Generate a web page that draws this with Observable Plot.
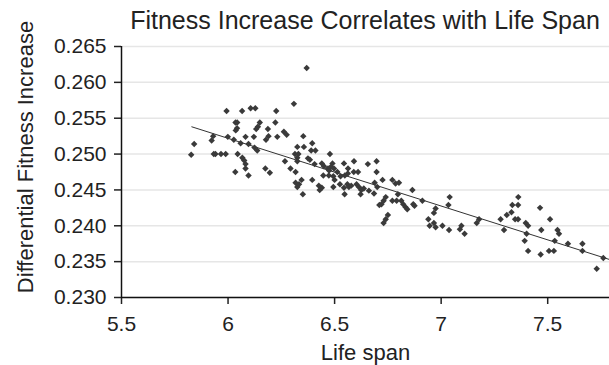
<!DOCTYPE html>
<html><head><meta charset="utf-8">
<script src="https://cdn.jsdelivr.net/npm/d3@7"></script>
<script src="https://cdn.jsdelivr.net/npm/@observablehq/plot@0.6"></script>
<style>
body{margin:0;background:#fff;font-family:"Liberation Sans",Arial,sans-serif;}
#wrap{position:relative;width:609px;height:365px;}
#title{position:absolute;left:0;top:0;width:609px;height:36px;box-sizing:border-box;padding-left:121px;text-align:center;font-size:25px;line-height:40px;color:#222;white-space:nowrap;z-index:2;}
</style></head><body>
<div id="wrap">
<div id="chart"></div>
<div id="title">Fitness Increase Correlates with Life Span</div>
</div>
<script>
const lifeSpan = [
5.827,5.841,5.923,5.930,5.933,5.941,5.967,5.989,5.993,5.999,
6.027,6.034,6.035,6.043,6.036,6.042,6.045,6.059,6.066,6.067,
6.076,6.082,6.082,6.082,6.096,6.096,6.106,6.128,6.121,6.124,
6.137,6.132,6.149,6.140,6.175,6.196,6.178,6.190,6.187,6.222,
6.226,6.231,6.309,6.369,6.262,6.275,6.353,6.325,6.356,6.395,
6.314,6.330,6.325,6.390,6.410,6.478,6.375,6.384,6.267,6.325,
6.406,6.440,6.450,6.490,6.482,6.497,6.293,6.317,6.469,6.474,
6.544,6.563,6.591,6.656,6.697,6.697,6.345,6.395,6.447,6.473,
6.494,6.513,6.500,6.528,6.548,6.562,6.590,6.610,6.317,6.325,
6.333,6.351,6.426,6.430,6.440,6.494,6.525,6.544,6.560,6.567,
6.578,6.547,6.603,6.614,6.625,6.637,6.622,6.661,6.685,6.688,
6.700,6.725,6.771,6.786,6.802,6.797,6.865,6.740,6.730,6.720,
6.710,6.771,6.791,6.813,6.822,6.833,6.841,6.869,6.875,6.912,
6.750,6.740,6.730,6.940,6.946,6.966,6.974,6.966,6.974,7.006,
7.034,7.040,7.037,7.088,7.095,7.110,7.167,7.178,7.279,7.295,
7.308,7.330,7.334,7.361,7.347,7.361,7.362,7.397,7.408,7.401,
7.392,7.408,7.464,7.467,7.470,7.506,7.529,7.511,7.533,7.546,
7.553,7.595,7.663,7.663,7.730,7.761
];
const fitness = [
0.2499,0.2514,0.2519,0.2525,0.2500,0.2500,0.2500,0.2500,0.2560,0.2524,
0.2520,0.2475,0.2544,0.2544,0.2533,0.2536,0.2500,0.2515,0.2560,0.2495,
0.2491,0.2486,0.2480,0.2524,0.2470,0.2514,0.2564,0.2564,0.2524,0.2509,
0.2505,0.2535,0.2544,0.2538,0.2480,0.2474,0.2520,0.2525,0.2535,0.2544,
0.2560,0.2524,0.2570,0.2620,0.2531,0.2527,0.2525,0.2510,0.2510,0.2515,
0.2500,0.2500,0.2495,0.2505,0.2505,0.2500,0.2494,0.2492,0.2490,0.2490,
0.2486,0.2487,0.2483,0.2487,0.2482,0.2480,0.2480,0.2475,0.2480,0.2477,
0.2487,0.2480,0.2490,0.2486,0.2490,0.2475,0.2464,0.2464,0.2470,0.2470,
0.2469,0.2475,0.2464,0.2469,0.2470,0.2473,0.2475,0.2475,0.2460,0.2454,
0.2458,0.2444,0.2456,0.2450,0.2453,0.2454,0.2458,0.2453,0.2458,0.2454,
0.2456,0.2444,0.2458,0.2454,0.2450,0.2452,0.2444,0.2449,0.2445,0.2460,
0.2454,0.2464,0.2464,0.2459,0.2460,0.2444,0.2450,0.2440,0.2435,0.2430,
0.2429,0.2435,0.2435,0.2435,0.2430,0.2426,0.2423,0.2430,0.2428,0.2435,
0.2415,0.2409,0.2404,0.2409,0.2400,0.2404,0.2398,0.2418,0.2424,0.2400,
0.2429,0.2440,0.2394,0.2395,0.2400,0.2389,0.2404,0.2409,0.2409,0.2394,
0.2415,0.2419,0.2429,0.2429,0.2409,0.2409,0.2440,0.2404,0.2400,0.2389,
0.2379,0.2365,0.2425,0.2360,0.2394,0.2365,0.2365,0.2409,0.2379,0.2394,
0.2389,0.2375,0.2375,0.2365,0.2340,0.2355
];
const trendX = [5.83, 7.79];
const trendY = [0.2538, 0.2353];
const xTicks = [5.5, 6, 6.5, 7, 7.5];
const yTicks = [0.230, 0.235, 0.240, 0.245, 0.250, 0.255, 0.260, 0.265];
const xLabel = "Life span";
const yLabel = "Differential Fitness Increase";

const points = lifeSpan.map((x, i) => ({x, y: fitness[i]}));
const trend = trendX.map((x, i) => ({x, y: trendY[i]}));

const chart = Plot.plot({
  width: 609, height: 365,
  marginTop: 46, marginLeft: 121, marginRight: 0, marginBottom: 68,
  style: {fontFamily: "'Liberation Sans', Arial, sans-serif", fontSize: "21px", color: "#222", background: "#fff"},
  x: {domain: [5.5, 7.79], ticks: xTicks},
  y: {domain: [0.230, 0.265], ticks: yTicks},
  marks: [
    Plot.ruleY(yTicks, {stroke: "#e6e6e6", strokeWidth: 1.5}),
    Plot.line(trend, {x: "x", y: "y", stroke: "#333", strokeWidth: 1}),
    Plot.dot(points, {x: "x", y: "y", symbol: "diamond2", r: 2.9, fill: "#3a3a3a", stroke: "none"}),
    Plot.axisY({ticks: yTicks, tickFormat: d3.format(".3f"), tickSize: 7, tickPadding: 8, label: null, fontSize: 21, strokeWidth: 1.5}),
    Plot.axisX({ticks: xTicks, tickFormat: d => String(d), tickSize: 7, tickPadding: 12, label: null, fontSize: 21, strokeWidth: 1.5}),
    Plot.ruleY([0.230], {stroke: "#111", strokeWidth: 1.5}),
    Plot.ruleX([5.5], {stroke: "#111", strokeWidth: 1.5}),
    Plot.text([xLabel], {text: d => d, frameAnchor: "bottom", lineAnchor: "middle", textAnchor: "middle", dy: 55, fontSize: 22, fill: "#222"}),
    Plot.text([yLabel], {text: d => d, frameAnchor: "left", textAnchor: "middle", lineAnchor: "middle", rotate: -90, dx: -96, dy: -15, fontSize: 22, fill: "#222"})
  ]
});
document.getElementById("chart").appendChild(chart);
</script>
</body></html>
